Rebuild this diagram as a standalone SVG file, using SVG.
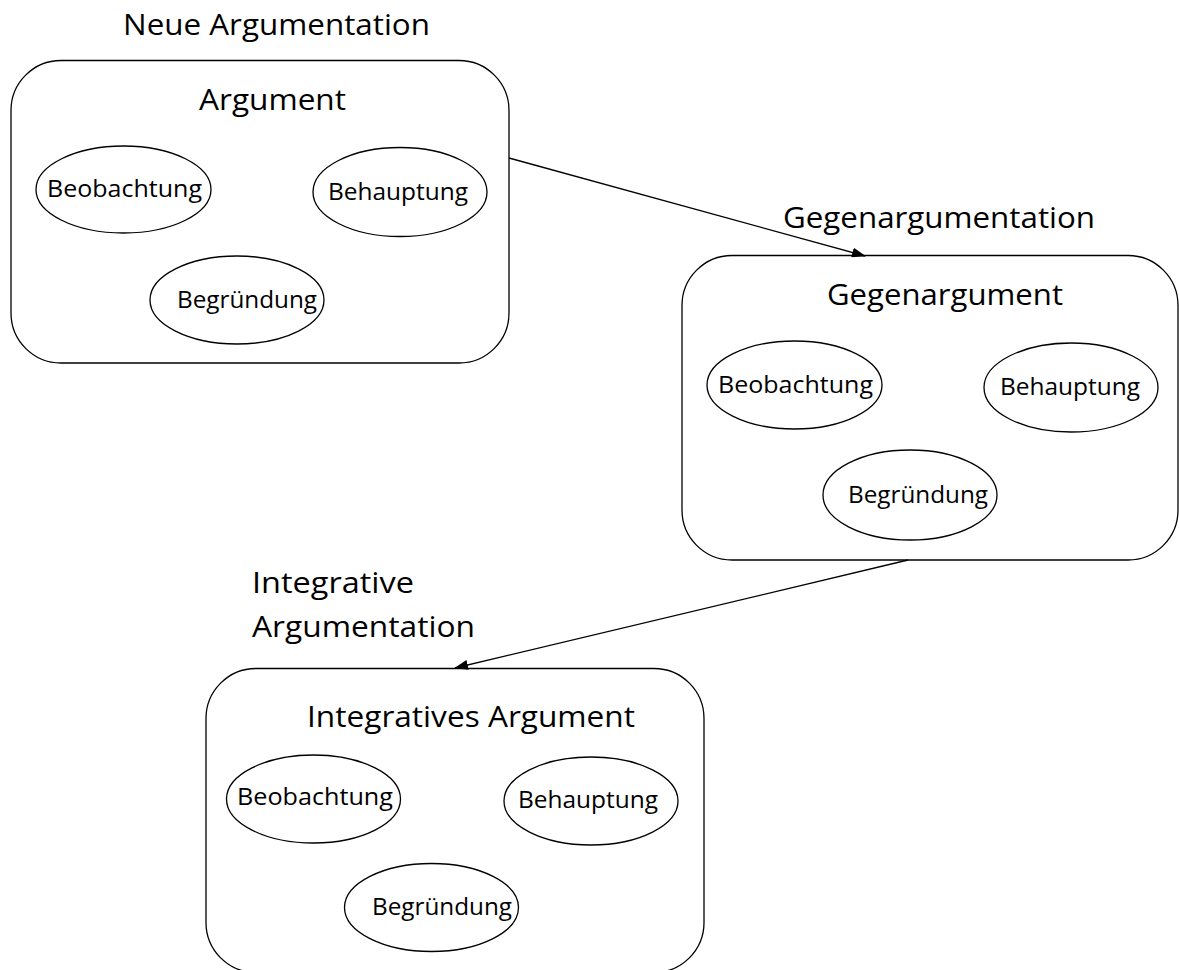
<svg xmlns="http://www.w3.org/2000/svg" width="1179" height="970" viewBox="0 0 1179 970">
<style>
.box{fill:#fff;stroke:#000;stroke-width:1.3}
.ell{fill:#fff;stroke:#000;stroke-width:1.3}
.conn{fill:none;stroke:#000;stroke-width:1.3}
text{font-family:"Open Sans","Noto Sans",sans-serif;fill:#000}
.big{font-size:29.5px}
.sm{font-size:24px}
</style>
<defs>
<marker id="ah" markerWidth="14" markerHeight="10" refX="13" refY="5" orient="auto" markerUnits="userSpaceOnUse">
<path d="M0,0 L14,5 L0,10 Z" fill="#000"/>
</marker>
</defs>
<rect width="1179" height="970" fill="#fff"/>
<g id="neue-argumentation">
<text class="big" x="123" y="35" textLength="307" lengthAdjust="spacingAndGlyphs">Neue Argumentation</text>
<rect class="box" x="11" y="60.5" width="498" height="302.5" rx="50" ry="50"/>
<text class="big" x="199" y="110" textLength="147" lengthAdjust="spacingAndGlyphs">Argument</text>
<g id="a-beobachtung"><ellipse class="ell" cx="123.5" cy="189.5" rx="87.5" ry="43.5"/><text class="sm" x="47" y="197" textLength="155" lengthAdjust="spacingAndGlyphs">Beobachtung</text></g>
<g id="a-behauptung"><ellipse class="ell" cx="400" cy="192" rx="87" ry="44.5"/><text class="sm" x="328" y="200" textLength="140" lengthAdjust="spacingAndGlyphs">Behauptung</text></g>
<g id="a-begruendung"><ellipse class="ell" cx="237" cy="300" rx="87" ry="44"/><text class="sm" x="177" y="308" textLength="140" lengthAdjust="spacingAndGlyphs">Begründung</text></g>
</g>
<g id="gegenargumentation">
<text class="big" x="783" y="228" textLength="312" lengthAdjust="spacingAndGlyphs">Gegenargumentation</text>
<rect class="box" x="682" y="255.5" width="496" height="304.5" rx="50" ry="50"/>
<text class="big" x="827" y="305" textLength="236" lengthAdjust="spacingAndGlyphs">Gegenargument</text>
<g id="g-beobachtung"><ellipse class="ell" cx="794.5" cy="385" rx="87.5" ry="44"/><text class="sm" x="718" y="393" textLength="155" lengthAdjust="spacingAndGlyphs">Beobachtung</text></g>
<g id="g-behauptung"><ellipse class="ell" cx="1071" cy="387.5" rx="87" ry="44.5"/><text class="sm" x="1000" y="395" textLength="140" lengthAdjust="spacingAndGlyphs">Behauptung</text></g>
<g id="g-begruendung"><ellipse class="ell" cx="910" cy="495" rx="87" ry="45"/><text class="sm" x="848" y="503" textLength="140" lengthAdjust="spacingAndGlyphs">Begründung</text></g>
</g>
<g id="integrative-argumentation">
<text class="big" x="252" y="593" textLength="162" lengthAdjust="spacingAndGlyphs">Integrative</text>
<text class="big" x="252" y="637" textLength="223" lengthAdjust="spacingAndGlyphs">Argumentation</text>
<rect class="box" x="206" y="668.5" width="498" height="304" rx="50" ry="50"/>
<text class="big" x="307" y="727" textLength="328" lengthAdjust="spacingAndGlyphs">Integratives Argument</text>
<g id="i-beobachtung"><ellipse class="ell" cx="313.5" cy="799" rx="87" ry="44"/><text class="sm" x="237" y="805" textLength="156" lengthAdjust="spacingAndGlyphs">Beobachtung</text></g>
<g id="i-behauptung"><ellipse class="ell" cx="591" cy="801" rx="87" ry="44"/><text class="sm" x="518" y="808" textLength="140" lengthAdjust="spacingAndGlyphs">Behauptung</text></g>
<g id="i-begruendung"><ellipse class="ell" cx="431.5" cy="907.5" rx="87" ry="44"/><text class="sm" x="372" y="915" textLength="140" lengthAdjust="spacingAndGlyphs">Begründung</text></g>
</g>
<g id="connectors">
<line class="conn" x1="509" y1="158" x2="865" y2="256" marker-end="url(#ah)"/>
<line class="conn" x1="908" y1="560" x2="455" y2="668" marker-end="url(#ah)"/>
</g>
</svg>
